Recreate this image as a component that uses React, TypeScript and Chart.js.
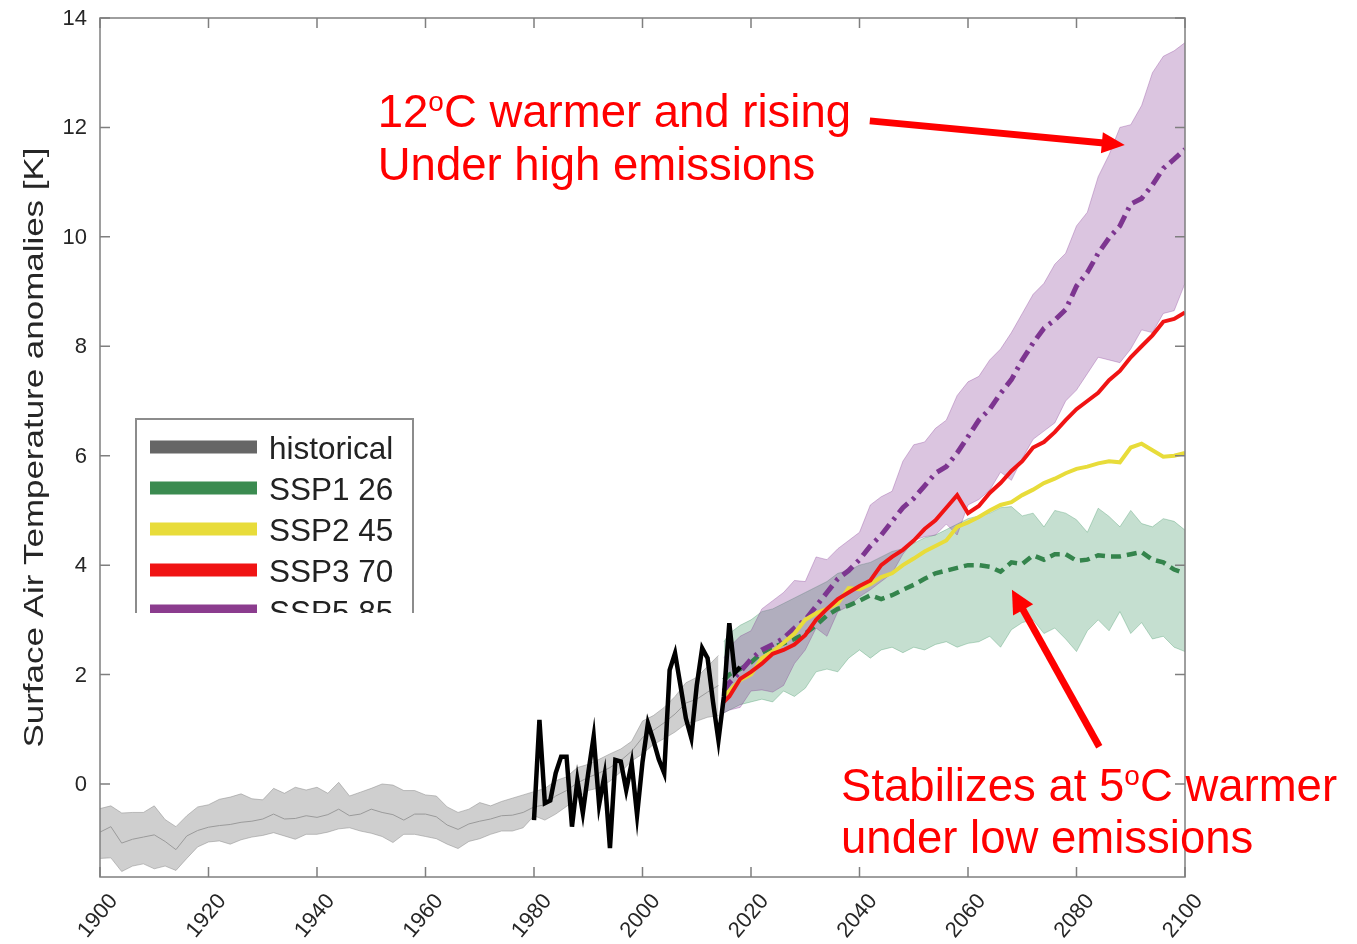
import React, { useEffect, useRef } from "react";
import { Chart, registerables } from "chart.js";

Chart.register(...registerables);

const FONT = '"Liberation Sans", Arial, Helvetica, sans-serif';

// ---------- axes ----------
const X_MIN = 1900;
const X_MAX = 2100;
const Y_MIN = -1.7;
const Y_MAX = 14;
const X_TICKS = [1900, 1920, 1940, 1960, 1980, 2000, 2020, 2040, 2060, 2080, 2100];
const Y_TICKS = [0, 2, 4, 6, 8, 10, 12, 14];
const Y_TITLE = "Surface Air Temperature anomalies [K]";

// ---------- historical ensemble (1900-2014) ----------
const HIST_YEARS = [
  1900, 1902, 1904, 1906, 1908, 1910, 1912, 1914, 1916, 1918,
  1920, 1922, 1924, 1926, 1928, 1930, 1932, 1934, 1936, 1938,
  1940, 1942, 1944, 1946, 1948, 1950, 1952, 1954, 1956, 1958,
  1960, 1962, 1964, 1966, 1968, 1970, 1972, 1974, 1976, 1978,
  1980, 1982, 1984, 1986, 1988, 1990, 1992, 1994, 1996, 1998,
  2000, 2002, 2004, 2006, 2008, 2010, 2012, 2014,
];
const HIST_MEAN = [
  -0.88, -0.78, -1.08, -1.01, -0.97, -0.93, -1.05, -1.2, -0.95, -0.85,
  -0.79, -0.76, -0.74, -0.7, -0.68, -0.64, -0.55, -0.64, -0.63, -0.58,
  -0.61, -0.56, -0.46, -0.58, -0.55, -0.46, -0.52, -0.56, -0.66, -0.55,
  -0.55, -0.6, -0.75, -0.83, -0.73, -0.68, -0.64, -0.58, -0.57, -0.52,
  -0.42, -0.38, -0.22, -0.12, 0.02, 0.12, 0.2, 0.3, 0.43, 0.6,
  0.85, 0.98, 1.12, 1.28, 1.48, 1.55, 1.68, 1.8,
];
const HIST_UPPER = [
  -0.45, -0.4, -0.53, -0.52, -0.52, -0.4, -0.65, -0.78, -0.58, -0.42,
  -0.38, -0.28, -0.24, -0.18, -0.27, -0.29, -0.08, -0.17, -0.06, -0.11,
  -0.06, -0.17, 0.03, -0.22, -0.15, -0.08, 0.0, -0.02, -0.12, -0.12,
  -0.2, -0.22, -0.42, -0.52, -0.46, -0.34, -0.4, -0.32, -0.26, -0.2,
  -0.14, -0.08, 0.06, 0.13, 0.3, 0.36, 0.45, 0.55, 0.64, 0.78,
  1.15, 1.25, 1.4, 1.6, 1.85, 1.95, 2.15, 2.35,
];
const HIST_LOWER = [
  -1.36, -1.35, -1.6, -1.5, -1.46, -1.55, -1.5, -1.58, -1.36, -1.15,
  -1.06, -1.04, -1.1, -1.02, -0.97, -0.94, -0.89, -0.95, -1.01, -0.92,
  -0.92, -0.88, -0.82, -0.8, -0.86, -0.9, -0.96, -1.07, -0.92, -0.92,
  -0.96, -1.0, -1.1, -1.18, -1.05, -1.0, -0.92, -0.86, -0.86, -0.8,
  -0.58, -0.66, -0.55, -0.41, -0.25, -0.12, -0.07, 0.05, 0.22, 0.42,
  0.55, 0.72, 0.83, 0.95, 1.1, 1.15, 1.22, 1.25,
];

// ---------- observations (black) ----------
const OBS_YEARS = [
  1980, 1981, 1982, 1983, 1984, 1985, 1986, 1987, 1988, 1989,
  1990, 1991, 1992, 1993, 1994, 1995, 1996, 1997, 1998, 1999,
  2000, 2001, 2002, 2003, 2004, 2005, 2006, 2007, 2008, 2009,
  2010, 2011, 2012, 2013, 2014, 2015, 2016, 2017, 2018,
];
const OBS_VALUES = [
  -0.66, 1.17, -0.35, -0.3, 0.2, 0.5, 0.5, -0.78, 0.07, -0.53,
  0.2, 0.87, -0.38, 0.16, -1.17, 0.44, 0.41, -0.11, 0.38, -0.57,
  0.4, 1.11, 0.8, 0.45, 0.2, 2.08, 2.39, 1.8, 1.2, 0.84,
  1.8, 2.48, 2.3, 1.5, 0.8, 1.6, 2.94, 2.03, 2.14,
];

// ---------- scenarios (2015-2100) ----------
const SCEN_YEARS = [
  2015, 2016, 2018, 2020, 2022, 2024, 2026, 2028, 2030, 2032,
  2034, 2036, 2038, 2040, 2042, 2044, 2046, 2048, 2050, 2052,
  2054, 2056, 2058, 2060, 2062, 2064, 2066, 2068, 2070, 2072,
  2074, 2076, 2078, 2080, 2082, 2084, 2086, 2088, 2090, 2092,
  2094, 2096, 2098, 2100,
];
const SSP585_MEAN = [
  1.7, 1.85, 2.05, 2.28, 2.45, 2.55, 2.66, 2.85, 3.0, 3.25,
  3.5, 3.75, 3.9, 4.1, 4.35, 4.55, 4.8, 5.05, 5.22, 5.45,
  5.68, 5.8, 6.05, 6.35, 6.65, 6.85, 7.14, 7.39, 7.75, 8.06,
  8.33, 8.48, 8.67, 9.1, 9.35, 9.7, 9.98, 10.2, 10.6, 10.7,
  10.95, 11.25, 11.42, 11.6,
];
const SSP585_UPPER = [
  2.3, 2.5, 2.7, 2.8, 3.2, 3.35, 3.5, 3.72, 3.7, 4.15,
  4.1, 4.3, 4.45, 4.6, 5.1, 5.25, 5.35, 5.9, 6.2, 6.25,
  6.5, 6.65, 7.1, 7.35, 7.45, 7.75, 7.95, 8.25, 8.6, 8.95,
  9.15, 9.5, 9.7, 10.2, 10.45, 11.1, 11.5, 12.0, 12.05, 12.4,
  13.0, 13.3, 13.4, 13.55,
];
const SSP585_LOWER = [
  1.3, 1.35, 1.4, 1.7, 1.72, 1.68, 1.8, 2.2, 2.45, 2.85,
  2.7, 3.15, 3.25, 3.42, 3.55, 3.7, 3.85, 4.2, 4.45, 4.52,
  4.55, 4.75, 4.55, 5.1, 5.2, 5.37, 5.7, 5.55, 5.95, 6.3,
  6.45, 6.6, 7.0, 7.2, 7.5, 7.8, 7.75, 7.7, 7.95, 8.3,
  8.25, 8.6, 8.65, 9.15,
];
const SSP370_MEAN = [
  1.5, 1.6, 1.92, 2.05, 2.2, 2.38, 2.45, 2.55, 2.72, 3.0,
  3.2, 3.38, 3.5, 3.62, 3.72, 4.0, 4.15, 4.28, 4.45, 4.66,
  4.82, 5.05, 5.28, 4.95, 5.08, 5.32, 5.5, 5.72, 5.9, 6.15,
  6.25, 6.43, 6.65, 6.85, 7.0, 7.15, 7.38, 7.55, 7.8, 8.0,
  8.2, 8.45, 8.5, 8.62,
];
const SSP245_MEAN = [
  1.62, 1.7, 1.9, 2.0, 2.3, 2.42, 2.58, 2.75, 3.0, 3.12,
  3.2, 3.3, 3.58, 3.56, 3.65, 3.78, 3.85, 4.0, 4.12, 4.25,
  4.35, 4.45, 4.7, 4.78, 4.88, 5.0, 5.1, 5.15, 5.28, 5.38,
  5.5, 5.58, 5.68, 5.76, 5.8, 5.86, 5.9, 5.88, 6.15, 6.22,
  6.1, 5.98, 6.0, 6.05,
];
const SSP126_MEAN = [
  1.9, 2.0, 2.1, 2.22, 2.4, 2.5, 2.57, 2.65, 2.75, 2.9,
  3.08, 3.2, 3.26, 3.35, 3.45, 3.38, 3.45, 3.55, 3.64, 3.75,
  3.85, 3.9, 3.95, 4.0, 4.0, 3.97, 3.88, 4.05, 4.02, 4.18,
  4.1, 4.2, 4.2, 4.08, 4.1, 4.18, 4.16, 4.16, 4.2, 4.24,
  4.1, 4.05, 3.92, 3.85,
];
const SSP126_UPPER = [
  2.6, 2.75, 2.9, 3.0, 3.15, 3.2, 3.3, 3.4, 3.5, 3.6,
  3.7, 3.85, 3.9, 4.0, 4.05, 4.15, 4.25, 4.3, 4.4, 4.5,
  4.55, 4.65, 4.75, 4.85, 4.9, 4.95, 5.05, 5.07, 4.9, 4.95,
  4.7, 5.0, 4.95, 4.83, 4.6, 5.04, 4.89, 4.7, 5.0, 4.76,
  4.7, 4.85, 4.8, 4.64,
];
const SSP126_LOWER = [
  1.3, 1.35, 1.45, 1.5, 1.55, 1.5, 1.7, 1.6, 1.75, 2.05,
  2.1, 2.05, 2.3, 2.45, 2.3, 2.45, 2.5, 2.4, 2.5, 2.45,
  2.55, 2.6, 2.5, 2.57, 2.6, 2.7, 2.5, 2.82, 2.95, 3.0,
  2.75, 2.85, 2.65, 2.42, 2.8, 3.0, 2.8, 3.15, 2.75, 2.95,
  2.65, 2.7, 2.5, 2.42,
];

// ---------- legend ----------
const LEGEND_LABELS = ["historical", "SSP1 26", "SSP2 45", "SSP3 70", "SSP5 85"];
const LEGEND_COLORS = ["#666666", "#3b8b50", "#e8dc3a", "#f01414", "#8b3c8e"];

// ---------- annotations (anchored in data units) ----------
const NOTE_HIGH_LINE1 = ["12", "o", "C warmer and rising"];
const NOTE_HIGH_LINE2 = "Under high emissions";
const NOTE_HIGH_AT = { x: 1951.2, y1: 12.01, y2: 11.04 };
const NOTE_LOW_LINE1 = ["Stabilizes at 5", "o", "C warmer"];
const NOTE_LOW_LINE2 = "under low emissions";
const NOTE_LOW_AT = { x: 2036.6, y1: -0.32, y2: -1.26 };
const ARROW_HIGH = { from: [2041.9, 12.12], to: [2088.9, 11.68] };
const ARROW_LOW = { from: [2084.2, 0.68], to: [2068.1, 3.55] };

function pts(xs: number[], ys: number[]) {
  return xs.map((x, i) => ({ x, y: ys[i] }));
}

function drawArrow(ctx: CanvasRenderingContext2D, x1: number, y1: number, x2: number, y2: number, lw: number, hl: number, hw: number) {
  const ang = Math.atan2(y2 - y1, x2 - x1);
  const bx = x2 - Math.cos(ang) * hl;
  const by = y2 - Math.sin(ang) * hl;
  ctx.beginPath();
  ctx.moveTo(x1, y1);
  ctx.lineTo(bx + Math.cos(ang) * 2, by + Math.sin(ang) * 2);
  ctx.lineWidth = lw;
  ctx.lineCap = "butt";
  ctx.stroke();
  const px = (-Math.sin(ang) * hw) / 2;
  const py = (Math.cos(ang) * hw) / 2;
  ctx.beginPath();
  ctx.moveTo(x2, y2);
  ctx.lineTo(bx + px, by + py);
  ctx.lineTo(bx - px, by - py);
  ctx.closePath();
  ctx.fill();
}

function drawRich(ctx: CanvasRenderingContext2D, parts: string[], x: number, y: number, big: number, small: number, raise: number) {
  let cx = x;
  parts.forEach((p, i) => {
    const isSup = i === 1;
    ctx.font = `${isSup ? small : big}px ${FONT}`;
    ctx.fillText(p, cx, isSup ? y - raise : y);
    cx += ctx.measureText(p).width;
  });
}

const overlayPlugin = {
  id: "overlay",
  afterDraw(chart: any) {
    const { ctx, chartArea: ca, scales } = chart;
    const xs = scales.x;
    const ys = scales.y;
    ctx.save();

    // frame with inward ticks
    ctx.strokeStyle = "#7f7f7f";
    ctx.lineWidth = 1.5;
    ctx.strokeRect(ca.left, ca.top, ca.right - ca.left, ca.bottom - ca.top);
    ctx.beginPath();
    X_TICKS.forEach((v) => {
      const px = xs.getPixelForValue(v);
      ctx.moveTo(px, ca.bottom);
      ctx.lineTo(px, ca.bottom - 10);
      ctx.moveTo(px, ca.top);
      ctx.lineTo(px, ca.top + 10);
    });
    Y_TICKS.forEach((v) => {
      const py = ys.getPixelForValue(v);
      ctx.moveTo(ca.left, py);
      ctx.lineTo(ca.left + 10, py);
      ctx.moveTo(ca.right, py);
      ctx.lineTo(ca.right - 10, py);
    });
    ctx.stroke();

    // y tick labels
    ctx.fillStyle = "#262626";
    ctx.font = `22px ${FONT}`;
    ctx.textAlign = "right";
    ctx.textBaseline = "middle";
    Y_TICKS.forEach((v) => {
      ctx.fillText(String(v), ca.left - 13, ys.getPixelForValue(v) + 1);
    });

    // x tick labels, rotated
    ctx.textAlign = "center";
    ctx.textBaseline = "middle";
    X_TICKS.forEach((v) => {
      const px = xs.getPixelForValue(v);
      ctx.save();
      ctx.translate(px - 2, ca.bottom + 39);
      ctx.rotate((-50 * Math.PI) / 180);
      ctx.fillText(String(v), 0, 0);
      ctx.restore();
    });

    // y title
    ctx.save();
    ctx.font = `28px ${FONT}`;
    const tw = ctx.measureText(Y_TITLE).width;
    ctx.translate(43, (ca.top + ca.bottom) / 2);
    ctx.rotate(-Math.PI / 2);
    ctx.scale(600 / tw, 1);
    ctx.textAlign = "center";
    ctx.textBaseline = "alphabetic";
    ctx.fillText(Y_TITLE, 0, 0);
    ctx.restore();

    // legend (clipped at bottom like the reference)
    ctx.save();
    ctx.beginPath();
    ctx.rect(0, 0, chart.width, 613);
    ctx.clip();
    ctx.fillStyle = "#ffffff";
    ctx.fillRect(136, 419, 277, 230);
    ctx.strokeStyle = "#8c8c8c";
    ctx.lineWidth = 2;
    ctx.strokeRect(136, 419, 277, 230);
    ctx.font = `31.5px ${FONT}`;
    ctx.textAlign = "left";
    ctx.textBaseline = "alphabetic";
    LEGEND_LABELS.forEach((lab, i) => {
      const cy = 447 + i * 41;
      ctx.strokeStyle = LEGEND_COLORS[i];
      ctx.lineWidth = 13;
      ctx.beginPath();
      ctx.moveTo(150, cy);
      ctx.lineTo(257, cy);
      ctx.stroke();
      ctx.fillStyle = "#222222";
      ctx.fillText(lab, 269, cy + 11.5);
    });
    ctx.restore();

    // annotations
    ctx.fillStyle = "#ff0000";
    ctx.strokeStyle = "#ff0000";
    ctx.textAlign = "left";
    ctx.textBaseline = "alphabetic";
    const hx = xs.getPixelForValue(NOTE_HIGH_AT.x);
    drawRich(ctx, NOTE_HIGH_LINE1, hx, ys.getPixelForValue(NOTE_HIGH_AT.y1), 45.5, 28, 16);
    ctx.font = `45.5px ${FONT}`;
    ctx.fillText(NOTE_HIGH_LINE2, hx, ys.getPixelForValue(NOTE_HIGH_AT.y2));
    const lx = xs.getPixelForValue(NOTE_LOW_AT.x);
    drawRich(ctx, NOTE_LOW_LINE1, lx, ys.getPixelForValue(NOTE_LOW_AT.y1), 45.5, 28, 16);
    ctx.font = `45.5px ${FONT}`;
    ctx.fillText(NOTE_LOW_LINE2, lx, ys.getPixelForValue(NOTE_LOW_AT.y2));

    drawArrow(
      ctx,
      xs.getPixelForValue(ARROW_HIGH.from[0]), ys.getPixelForValue(ARROW_HIGH.from[1]),
      xs.getPixelForValue(ARROW_HIGH.to[0]), ys.getPixelForValue(ARROW_HIGH.to[1]),
      7, 23, 21
    );
    drawArrow(
      ctx,
      xs.getPixelForValue(ARROW_LOW.from[0]), ys.getPixelForValue(ARROW_LOW.from[1]),
      xs.getPixelForValue(ARROW_LOW.to[0]), ys.getPixelForValue(ARROW_LOW.to[1]),
      7, 23, 23
    );
    ctx.restore();
  },
};

function band(xsArr: number[], ys: number[], fill: any, bg: string, edge: string, order: number) {
  return {
    data: pts(xsArr, ys),
    fill,
    backgroundColor: bg,
    borderColor: edge,
    borderWidth: 1,
    pointRadius: 0,
    order,
  };
}

function line(xsArr: number[], ys: number[], color: string, width: number, dash: number[], order: number) {
  return {
    data: pts(xsArr, ys),
    fill: false,
    borderColor: color,
    borderWidth: width,
    borderDash: dash,
    pointRadius: 0,
    tension: 0,
    order,
  };
}

export default function App() {
  const ref = useRef<HTMLCanvasElement>(null);

  useEffect(() => {
    const datasets: any[] = [
      line(OBS_YEARS, OBS_VALUES, "#000000", 4.5, [], 0),
      line(SCEN_YEARS, SSP370_MEAN, "#f01414", 4, [], 1),
      line(SCEN_YEARS, SSP245_MEAN, "#e8dc3a", 4, [], 2),
      line(SCEN_YEARS, SSP585_MEAN, "#7d3590", 5, [13, 6, 3, 6], 3),
      line(SCEN_YEARS, SSP126_MEAN, "#34844c", 4.5, [10, 6], 4),
      line(HIST_YEARS, HIST_MEAN, "#9a9a9a", 1, [], 5),
      band(SCEN_YEARS, SSP585_UPPER, "+1", "rgba(126,47,142,0.28)", "rgba(126,47,142,0.3)", 6),
      band(SCEN_YEARS, SSP585_LOWER, false, "rgba(126,47,142,0.28)", "rgba(126,47,142,0.3)", 7),
      band(SCEN_YEARS, SSP126_UPPER, "+1", "rgba(46,139,87,0.28)", "rgba(46,139,87,0.3)", 8),
      band(SCEN_YEARS, SSP126_LOWER, false, "rgba(46,139,87,0.28)", "rgba(46,139,87,0.3)", 9),
      band(HIST_YEARS, HIST_UPPER, "+1", "rgba(140,140,140,0.42)", "rgba(140,140,140,0.5)", 10),
      band(HIST_YEARS, HIST_LOWER, false, "rgba(140,140,140,0.42)", "rgba(140,140,140,0.5)", 11),
    ];

    const chart = new Chart(ref.current as HTMLCanvasElement, {
      type: "line",
      data: { datasets },
      options: {
        responsive: false,
        animation: false,
        events: [],
        layout: { padding: { left: 0, top: 18, right: 172, bottom: 0 } },
        plugins: {
          legend: { display: false },
          tooltip: { enabled: false },
          title: { display: false },
        },
        scales: {
          x: {
            type: "linear",
            min: X_MIN,
            max: X_MAX,
            afterBuildTicks: (s: any) => {
              s.ticks = X_TICKS.map((v) => ({ value: v }));
            },
            afterFit: (s: any) => {
              s.height = 67;
            },
            ticks: { display: false },
            grid: { display: false, drawTicks: false },
            border: { display: false },
          },
          y: {
            type: "linear",
            min: Y_MIN,
            max: Y_MAX,
            afterBuildTicks: (s: any) => {
              s.ticks = Y_TICKS.map((v) => ({ value: v }));
            },
            afterFit: (s: any) => {
              s.width = 100;
            },
            ticks: { display: false },
            grid: { display: false, drawTicks: false },
            border: { display: false },
          },
        },
      } as any,
      plugins: [overlayPlugin],
    });
    return () => chart.destroy();
  }, []);

  return (
    <div style={{ position: "fixed", left: 0, top: 0, width: 1357, height: 944, background: "#ffffff" }}>
      <canvas ref={ref} width={1357} height={944} style={{ display: "block", width: 1357, height: 944 }} />
    </div>
  );
}
